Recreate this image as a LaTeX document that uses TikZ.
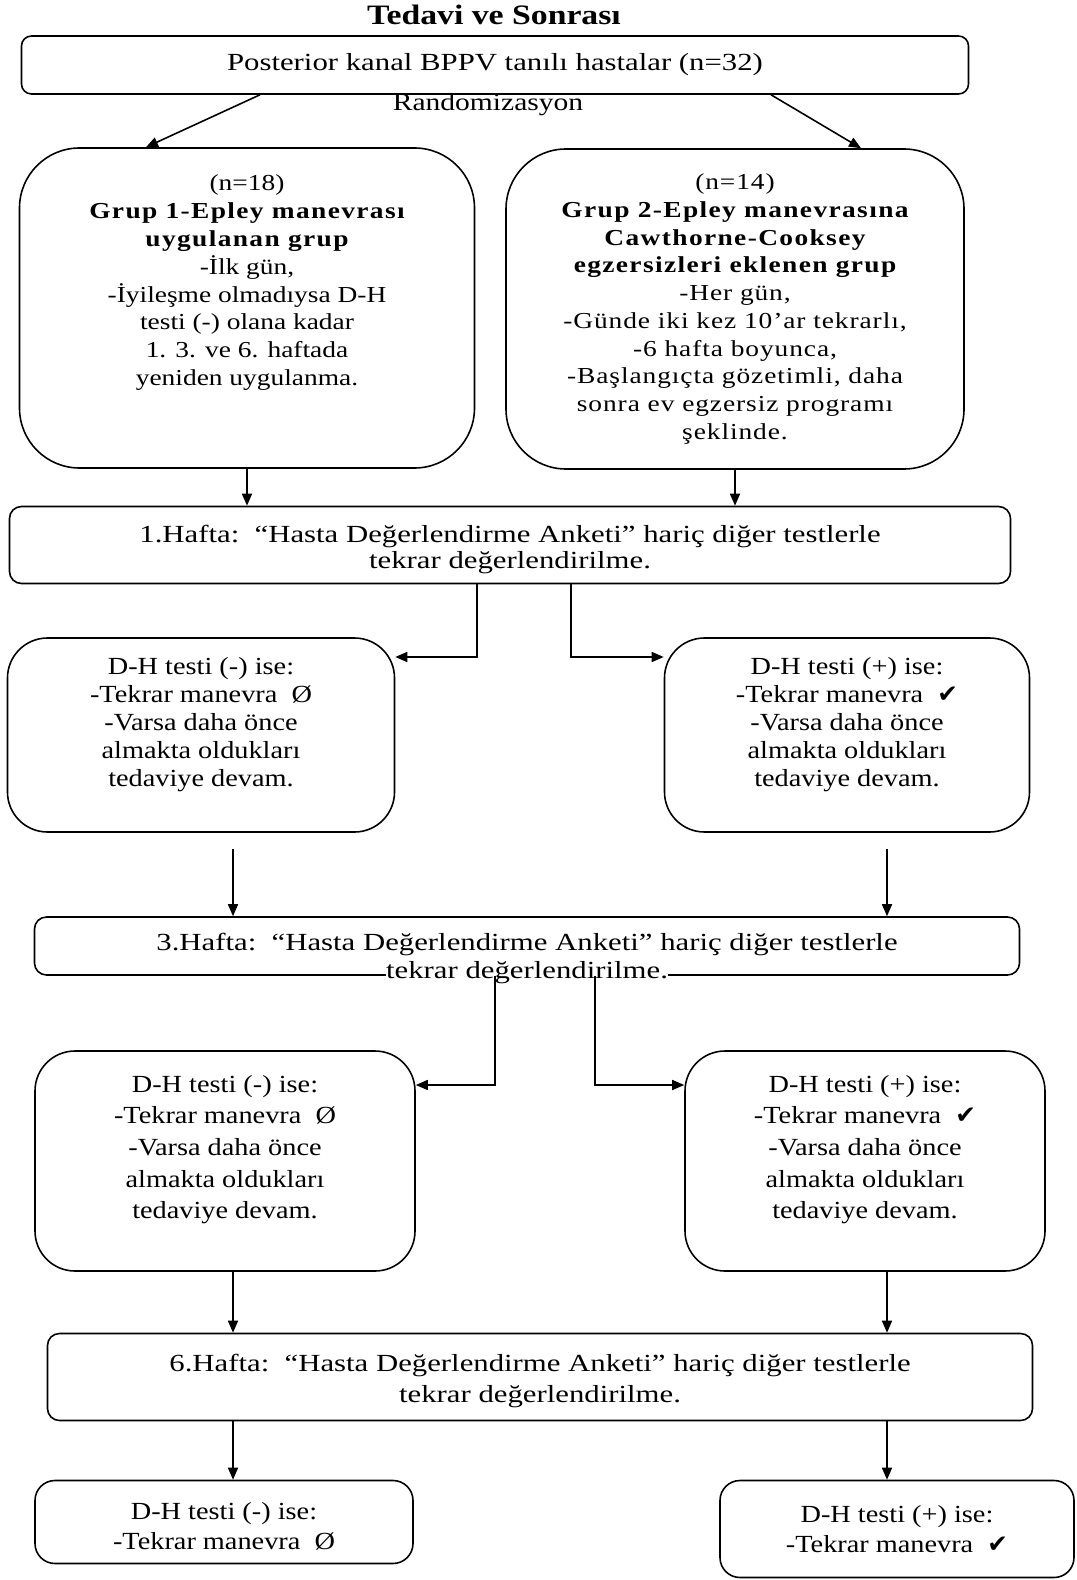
\documentclass[tikz,border=0pt]{standalone}
\usepackage{fontspec}
\setmainfont{Liberation Serif}
\newfontfamily\checkfont{DejaVu Sans}
\usetikzlibrary{arrows.meta,calc}

\newcommand{\tick}{{\checkfont\char"2714}}
\newcommand{\bsp}[1]{{\bfseries\addfontfeature{LetterSpace=6}#1}}
% text block moved up or down inside its frame
\newcommand{\vshift}[2]{\smash{\raisebox{#1}{\begin{tabular}{@{}c@{}}#2\end{tabular}}}}
\setlength{\fboxsep}{0pt}

\tikzset{
  basebox/.style={draw, line width=0.9pt, align=center, inner sep=0pt},
  topbox/.style={basebox, rounded corners=2mm, font=\fontsize{14}{16}\selectfont\addfontfeature{FakeStretch=1.25}},
  groupbox/.style={basebox, rounded corners=12mm, font=\fontsize{13}{15.8}\selectfont\addfontfeature{FakeStretch=1.2}},
  weekbox/.style={basebox, rounded corners=2.4mm, font=\fontsize{14}{14.8}\selectfont\addfontfeature{FakeStretch=1.25}},
  testbox/.style={basebox, rounded corners=8mm, font=\fontsize{14}{15.9}\selectfont\addfontfeature{FakeStretch=1.15}},
  endbox/.style={basebox, rounded corners=4mm, font=\fontsize{14}{17}\selectfont\addfontfeature{FakeStretch=1.15}},
  conn/.style={line width=0.9pt, -{Triangle[length=2.4mm,width=2mm]}}
}

\begin{document}
\begin{tikzpicture}[x=0.2mm,y=-0.2mm]
  \useasboundingbox (0,0) rectangle (1076,1580);

  \node[font=\fontsize{16}{18}\selectfont\bfseries\addfontfeature{FakeStretch=1.2}] (title) at (494,15) {Tedavi ve Sonrası};

  \node[topbox, minimum width=189.4mm, minimum height=11.6mm] (top) at (495,65) {Posterior kanal BPPV tanılı hastalar (n=32)};
  \node[font=\fontsize{14}{16}\selectfont\addfontfeature{FakeStretch=1.2}] (rand) at (488,105) {Randomizasyon};

  % groups
  \node[groupbox, minimum width=91mm, minimum height=64mm] (g1) at (247,308) {(n=18)\\
    \bsp{Grup 1-Epley manevrası}\\ \bsp{uygulanan grup}\\
    -İlk gün,\\ -İyileşme olmadıysa D-H\\ testi (-) olana kadar\\
    1. 3. ve 6. haftada\\ yeniden uygulanma.\\ \mbox{}\\ \mbox{}};
  \node[groupbox, minimum width=91.6mm, minimum height=64mm, font=\fontsize{13}{15.8}\selectfont\addfontfeature{FakeStretch=1.2,LetterSpace=4}] (g2) at (735,309) {(n=14)\\
    \bsp{Grup 2-Epley manevrasına}\\ \bsp{Cawthorne-Cooksey}\\ \bsp{egzersizleri eklenen grup}\\
    -Her gün,\\ -Günde iki kez 10’ar tekrarlı,\\ -6 hafta boyunca,\\
    -Başlangıçta gözetimli, daha\\ sonra ev egzersiz programı\\ şeklinde.};

  % week 1
  \node[weekbox, minimum width=200.2mm, minimum height=15.4mm] (w1) at (510,545)
    {\rule{0pt}{5.2mm}1.Hafta:\ \ “Hasta Değerlendirme Anketi” hariç diğer testlerle\\ tekrar değerlendirilme.};
  \node[testbox, minimum width=77.4mm, minimum height=38.8mm] (a1) at (201,735)
    {\vshift{0.8mm}{D-H testi (-) ise:\\ -Tekrar manevra\ \ Ø\\ -Varsa daha önce\\ almakta oldukları\\ tedaviye devam.}};
  \node[testbox, minimum width=73mm, minimum height=38.8mm] (b1) at (847,735)
    {\vshift{0.8mm}{D-H testi (+) ise:\\ -Tekrar manevra\ \ \tick\\ -Varsa daha önce\\ almakta oldukları\\ tedaviye devam.}};

  % week 3
  \node[weekbox, minimum width=197mm, minimum height=11.6mm, font=\fontsize{14}{16.2}\selectfont\addfontfeature{FakeStretch=1.25}] (w3) at (527,946)
    {\vshift{-3.8mm}{3.Hafta:\ \ “Hasta Değerlendirme Anketi” hariç diğer testlerle\\ \colorbox{white}{tekrar değerlendirilme.}}};
  \node[testbox, minimum width=76mm, minimum height=44mm, font=\fontsize{14}{18}\selectfont\addfontfeature{FakeStretch=1.15}] (a2) at (225,1161)
    {\vshift{1.1mm}{D-H testi (-) ise:\\ -Tekrar manevra\ \ Ø\\ -Varsa daha önce\\ almakta oldukları\\ tedaviye devam.}};
  \node[testbox, minimum width=72mm, minimum height=44mm, font=\fontsize{14}{18}\selectfont\addfontfeature{FakeStretch=1.15}] (b2) at (865,1161)
    {\vshift{1.1mm}{D-H testi (+) ise:\\ -Tekrar manevra\ \ \tick\\ -Varsa daha önce\\ almakta oldukları\\ tedaviye devam.}};

  % week 6
  \node[weekbox, minimum width=197mm, minimum height=17.4mm, font=\fontsize{14}{17.6}\selectfont\addfontfeature{FakeStretch=1.25}] (w6) at (540,1377)
    {\rule{0pt}{5.2mm}6.Hafta:\ \ “Hasta Değerlendirme Anketi” hariç diğer testlerle\\ tekrar değerlendirilme.};
  \node[endbox, minimum width=75.6mm, minimum height=16.6mm] (a3) at (224,1522)
    {\rule{0pt}{5mm}D-H testi (-) ise:\\ -Tekrar manevra\ \ Ø};
  \node[endbox, minimum width=70.8mm, minimum height=19.4mm] (b3) at (897,1529)
    {D-H testi (+) ise:\\ -Tekrar manevra\ \ \tick};

  % connectors
  \draw[conn] ([xshift=-47mm]top.south) -- ([xshift=-20.2mm]g1.north);
  \draw[conn] ([xshift=55.2mm]top.south) -- ([xshift=25.2mm]g2.north);
  \draw[conn] (g1.south) -- (g1.south |- w1.north);
  \draw[conn] (g2.south) -- (g2.south |- w1.north);

  \draw[conn] ([xshift=-6.6mm]w1.south) |- ([yshift=15.6mm]a1.east);
  \draw[conn] ([xshift=12.2mm]w1.south) |- ([yshift=15.6mm]b1.west);
  \draw[conn, shorten <=3.2mm] ([xshift=6.4mm]a1.south) -- ([xshift=6.4mm]a1.south |- w3.north);
  \draw[conn, shorten <=3.2mm] ([xshift=8mm]b1.south) -- ([xshift=8mm]b1.south |- w3.north);

  \draw[conn] ([xshift=-6.4mm]w3.south) |- ([yshift=15.2mm]a2.east);
  \draw[conn] ([xshift=13.6mm]w3.south) |- ([yshift=15.2mm]b2.west);
  \draw[conn] ([xshift=1.6mm]a2.south) -- ([xshift=1.6mm]a2.south |- w6.north);
  \draw[conn] ([xshift=4.4mm]b2.south) -- ([xshift=4.4mm]b2.south |- w6.north);

  \draw[conn] ([xshift=1.8mm]a3.north |- w6.south) -- ([xshift=1.8mm]a3.north);
  \draw[conn] ([xshift=-2mm]b3.north |- w6.south) -- ([xshift=-2mm]b3.north);
\end{tikzpicture}
\end{document}
